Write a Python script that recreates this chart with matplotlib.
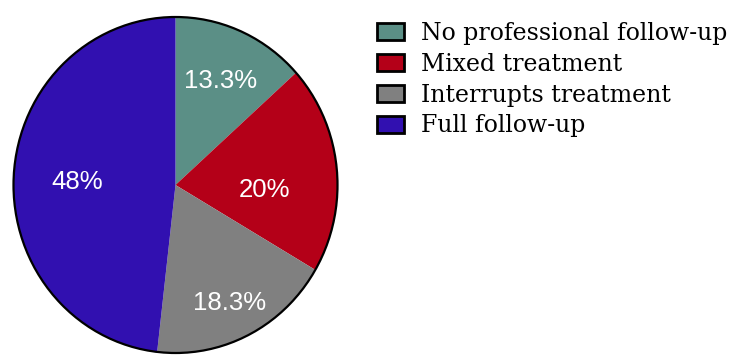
import numpy as np
import matplotlib.pyplot as plt
from matplotlib.patches import Patch, Circle

# data
labels = ['No professional follow-up', 'Mixed treatment', 'Interrupts treatment', 'Full follow-up']
values = [13.3, 20, 18.3, 48]
pct_text = ['13.3%', '20%', '18.3%', '48%']
colors = ['#5b8f86', '#b40018', '#808080', '#3110b0']

# label placement tweaks (radius, angle shift in degrees)
lab_r = [0.68, 0.55, 0.78, 0.61]
lab_dt = [0, -9, -1, 1.5]

W, H = 736, 356
fig = plt.figure(figsize=(W / 100, H / 100), dpi=100)

# pie is a bit taller than wide in the reference, so aspect is left free
rx, ry = 162, 168
cx, cy = 175.5, H - 185
lim = 1.1
ax = fig.add_axes([(cx - lim * rx) / W, (cy - lim * ry) / H, 2 * lim * rx / W, 2 * lim * ry / H])
wedges, _ = ax.pie(values, colors=colors, startangle=90, counterclock=False,
                   wedgeprops=dict(linewidth=0))
ax.set_aspect('auto')
ax.set_xlim(-lim, lim)
ax.set_ylim(-lim, lim)
ax.add_patch(Circle((0, 0), 1, fill=False, edgecolor='black', linewidth=1.6, zorder=5))

for w, t, r, dt in zip(wedges, pct_text, lab_r, lab_dt):
    ang = np.deg2rad((w.theta1 + w.theta2) / 2 + dt)
    ax.text(r * np.cos(ang), r * np.sin(ang), t, color='white', fontsize=18.5,
            family='Liberation Sans', ha='center', va='center')

handles = [Patch(facecolor=c, edgecolor='black', linewidth=2) for c in colors]
fig.legend(handles, labels, loc='upper left', bbox_to_anchor=(377 / W, 1 - 22 / H),
           frameon=False, prop=dict(family='DejaVu Serif', size=17),
           handlelength=1.15, handleheight=0.72, handletextpad=0.72,
           labelspacing=0.33, borderaxespad=0, borderpad=0)

fig.savefig('out.png', dpi=100)
